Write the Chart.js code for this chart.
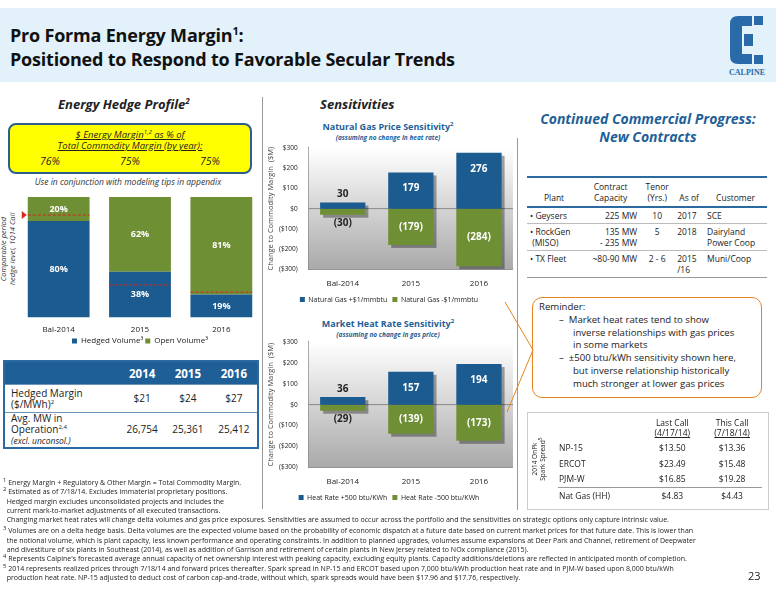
<!DOCTYPE html>
<html>
<head>
<meta charset="utf-8">
<script src="https://cdn.jsdelivr.net/npm/chart.js@4.4.0/dist/chart.umd.min.js"></script>
<style>
  body { margin:0; width:776px; height:600px; position:relative; background:#fff; font-family:"Open Sans", sans-serif; color:#222; overflow:hidden; }
  .abs { position:absolute; }
  .banner { left:0; top:8px; width:776px; height:74px; background:#e2f1fa; }
  .title { left:10px; top:19px; font-size:18px; font-weight:bold; line-height:24px; color:#111; letter-spacing:-0.2px; }
  .sect { font-style:italic; font-weight:bold; font-size:13px; }
  .ybox { left:8px; top:123px; width:240px; height:47px; background:#ffff00; border:2px solid #2c5f8a; border-radius:8px; font-style:italic; font-size:9.5px; text-align:center; }
  table { border-collapse:collapse; }
  .hm { left:3px; top:360px; width:256px; font-size:10px; border:2px solid #2b6aa0; }
  .hm th { background:#1f5f98; color:#fff; font-size:11.5px; height:22px; padding:0; }
  .hm td { border-top:1px solid #6d95bb; text-align:center; padding:0; line-height:11px; }
  .hm td:first-child { text-align:left; padding-left:6px; }
  .ct { left:527px; top:176px; width:240px; font-size:8.5px; border-top:2px solid #2b6aa0; border-bottom:1px solid #999; }
  .ct td { padding:2px 3px; vertical-align:top; border-top:1px solid #bbb; }
  .ct th { font-weight:normal; padding:3px; vertical-align:bottom; border-bottom:2px solid #2b6aa0; }
  .rem { left:532px; top:297px; width:230px; height:101px; border:1.5px solid #e8841f; border-radius:10px; font-size:9.6px; line-height:12.8px; padding:3px 4px 0 6px; box-sizing:border-box; }
  .sp { left:527px; top:412px; width:240px; height:96px; border:1px solid #ccc; font-size:8.5px; }
  .fn { left:3px; top:478px; width:790px; transform:scaleX(0.95); transform-origin:left top; font-size:7.4px; line-height:9.3px; }
  canvas { position:absolute; }
</style>
</head>
<body>
<div class="abs banner"></div>
<div class="abs title">Pro Forma Energy Margin<sup style="font-size:11px">1</sup>:<br>Positioned to Respond to Favorable Secular Trends</div>
<svg class="abs" style="left:722px;top:12px" width="50" height="70">
  <path d="M8 12 Q8 4 16 4 L30 4 L30 14 L20 14 L20 42 L30 42 L30 52 L16 52 Q8 52 8 44 Z" fill="#2a6aa8"/>
  <rect x="32" y="4" width="9" height="9" fill="#2a6aa8"/>
  <rect x="32" y="43" width="9" height="9" fill="#2a6aa8"/>
  <rect x="22" y="22" width="9" height="12" fill="#2a6aa8"/>
  <text x="25" y="63" font-size="8" font-family="Liberation Serif" font-weight="bold" fill="#2a6aa8" text-anchor="middle">CALPINE</text>
</svg>

<div class="abs sect" style="left:58px;top:95px">Energy Hedge Profile<sup style="font-size:8px">2</sup></div>
<div class="abs sect" style="left:320px;top:95px">Sensitivities</div>
<div class="abs sect" style="left:528px;top:110px;width:240px;text-align:center;color:#1f5f98;font-size:14px;line-height:18px">Continued Commercial Progress:<br>New Contracts</div>

<div class="abs ybox">
  <div style="margin-top:4px;text-decoration:underline;line-height:11px">$ Energy Margin<sup style="font-size:6px;line-height:0">1,2</sup> as % of<br>Total Commodity Margin (by year):</div>
  <div style="display:flex;justify-content:space-around;font-size:10.5px;margin-top:3px"><span>76%</span><span>75%</span><span>75%</span></div>
</div>
<div class="abs" style="left:8px;top:176px;width:240px;text-align:center;font-style:italic;font-size:8.5px;color:#333">Use in conjunction with modeling tips in appendix</div>
<div class="abs" style="left:-32px;top:240px;width:80px;transform:rotate(-90deg);font-style:italic;font-size:7.5px;text-align:center;line-height:9px;color:#333">Comparable period<br>hedge level, 1Q14 Call</div>

<canvas id="hedge" style="left:14px;top:197px" width="248" height="158"></canvas>

<div class="abs" style="left:262px;top:97px;width:1px;height:412px;background:#999"></div>
<div class="abs" style="left:517px;top:138px;width:1px;height:372px;background:#999"></div>

<div class="abs" style="left:268px;top:119px;width:240px;text-align:center;color:#1f5f98;font-weight:bold;font-size:9px;line-height:10px">Natural Gas Price Sensitivity<sup style="font-size:6px">2</sup><br><i style="font-size:6.5px">(assuming no change in heat rate)</i></div>
<canvas id="gas" style="left:265px;top:141px" width="248" height="172"></canvas>
<div class="abs" style="left:268px;top:316px;width:240px;text-align:center;color:#1f5f98;font-weight:bold;font-size:9px;line-height:10px">Market Heat Rate Sensitivity<sup style="font-size:6px">2</sup><br><i style="font-size:6.5px">(assuming no change in gas price)</i></div>
<canvas id="heat" style="left:265px;top:335px" width="248" height="176"></canvas>

<table class="abs hm">
  <tr><th></th><th>2014</th><th>2015</th><th>2016</th></tr>
  <tr style="height:28px"><td>Hedged Margin<br>($/MWh)<sup style="font-size:6px;line-height:0">2</sup></td><td>$21</td><td>$24</td><td>$27</td></tr>
  <tr style="height:35px"><td>Avg. MW in<br>Operation<sup style="font-size:6px;line-height:0">2,4</sup><br><i style="font-size:8.5px">(excl. unconsol.)</i></td><td>26,754</td><td>25,361</td><td>25,412</td></tr>
</table>

<table class="abs ct">
  <tr><th style="text-align:center">Plant</th><th>Contract<br>Capacity</th><th>Tenor<br>(Yrs.)</th><th>As of</th><th>Customer</th></tr>
  <tr><td>• Geysers</td><td style="text-align:right">225 MW</td><td style="text-align:center">10</td><td>2017</td><td>SCE</td></tr>
  <tr><td>• RockGen<br>&nbsp;(MISO)</td><td style="text-align:right">135 MW<br>- 235 MW</td><td style="text-align:center">5</td><td>2018</td><td>Dairyland<br>Power Coop</td></tr>
  <tr><td>• TX Fleet</td><td style="text-align:right">~80-90 MW</td><td style="text-align:center">2 - 6</td><td>2015<br>/16</td><td>Muni/Coop</td></tr>
</table>

<div class="abs rem">Reminder:
  <div style="padding-left:14px;text-indent:-14px;margin-left:20px">–&nbsp;&nbsp;Market heat rates tend to show<br>inverse relationships with gas prices<br>in some markets</div>
  <div style="padding-left:14px;text-indent:-14px;margin-left:20px">–&nbsp;&nbsp;±500 btu/kWh sensitivity shown here,<br>but inverse relationship historically<br>much stronger at lower gas prices</div>
</div>
<svg class="abs" style="left:495px;top:300px" width="50" height="120">
  <line x1="38" y1="50" x2="10" y2="2" stroke="#e8841f" stroke-width="1"/>
  <line x1="38" y1="50" x2="12" y2="112" stroke="#e8841f" stroke-width="1"/>
</svg>

<div class="abs sp">
  <div class="abs" style="left:-19px;top:38px;width:60px;transform:rotate(-90deg);font-size:6.5px;text-align:center;line-height:8px">2014 OnPk<br>Spark Spread<sup style="line-height:0">5</sup></div>
  <table style="position:absolute;left:30px;top:4px;width:204px;font-size:8.5px">
    <tr><td></td><td style="text-align:center;line-height:10px">Last Call<br><u>(4/17/14)</u></td><td style="text-align:center;line-height:10px">This Call<br><u>(7/18/14)</u></td></tr>
    <tr style="height:16px"><td>NP-15</td><td style="text-align:center">$13.50</td><td style="text-align:center">$13.36</td></tr>
    <tr style="height:16px"><td>ERCOT</td><td style="text-align:center">$23.49</td><td style="text-align:center">$15.48</td></tr>
    <tr style="height:16px"><td>PJM-W</td><td style="text-align:center">$16.85</td><td style="text-align:center">$19.28</td></tr>
    <tr style="height:16px;border-top:1px solid #999"><td>Nat Gas (HH)</td><td style="text-align:center">$4.83</td><td style="text-align:center">$4.43</td></tr>
  </table>
</div>

<div class="abs fn">
  <div style="width:270px"><sup style="line-height:0">1</sup> Energy Margin + Regulatory &amp; Other Margin = Total Commodity Margin.<br><sup style="line-height:0">2</sup> Estimated as of 7/18/14. Excludes immaterial proprietary positions.<br>&nbsp;&nbsp;Hedged margin excludes unconsolidated projects and includes the<br>&nbsp;&nbsp;current mark-to-market adjustments of all executed transactions.</div>
  <div>&nbsp;&nbsp;Changing market heat rates will change delta volumes and gas price exposures. Sensitivities are assumed to occur across the portfolio and the sensitivities on strategic options only capture intrinsic value.</div>
  <div style="margin-top:2px"><sup style="line-height:0">3</sup> Volumes are on a delta hedge basis. Delta volumes are the expected volume based on the probability of economic dispatch at a future date based on current market prices for that future date. This is lower than<br>&nbsp;&nbsp;the notional volume, which is plant capacity, less known performance and operating constraints. In addition to planned upgrades, volumes assume expansions at Deer Park and Channel, retirement of Deepwater<br>&nbsp;&nbsp;and divestiture of six plants in Southeast (2014), as well as addition of Garrison and retirement of certain plants in New Jersey related to NOx compliance (2015).</div>
  <div><sup style="line-height:0">4</sup> Represents Calpine's forecasted average annual capacity of net ownership interest with peaking capacity, excluding equity plants. Capacity additions/deletions are reflected in anticipated month of completion.</div>
  <div><sup style="line-height:0">5</sup> 2014 represents realized prices through 7/18/14 and forward prices thereafter. Spark spread in NP-15 and ERCOT based upon 7,000 btu/kWh production heat rate and in PJM-W based upon 8,000 btu/kWh<br>&nbsp;&nbsp;production heat rate. NP-15 adjusted to deduct cost of carbon cap-and-trade, without which, spark spreads would have been $17.96 and $17.76, respectively.</div>
</div>
<div class="abs" style="left:748px;top:568px;font-size:11px">23</div>

<script>
// 数据
const years = ['Bal-2014', '2015', '2016'];
const hedgedVolume = [80, 38, 19];
const openVolume = [20, 62, 81];
const comparableHedge = [85, 27, 21];

const gasUp = [30, 179, 276];
const gasDown = [-30, -179, -284];
const heatUp = [36, 157, 194];
const heatDown = [-29, -139, -173];
const sensTicks = [300, 200, 100, 0, -100, -200, -300];

Chart.defaults.font.family = "'Open Sans', sans-serif";
Chart.defaults.color = '#222';
Chart.defaults.animation = false;

const BLUE = '#1c5b8f';
const GREEN = '#6f8f34';

function fmtMoney(v) {
    if (v === 0) return '$0';
    return v < 0 ? '($' + Math.abs(v) + ')' : '$' + v;
}

// 值标签插件
const valueLabels = {
    id: 'valueLabels',
    afterDatasetsDraw(chart, args, opts) {
        const ctx = chart.ctx;
        ctx.save();
        ctx.textAlign = 'center';
        ctx.textBaseline = 'middle';
        chart.data.datasets.forEach((ds, di) => {
            chart.getDatasetMeta(di).data.forEach((bar, i) => {
                const v = ds.data[i];
                let txt = opts.percent ? v + '%' : (v < 0 ? '(' + Math.abs(v) + ')' : String(v));
                let y;
                let color = '#fff';
                const h = Math.abs(bar.base - bar.y);
                if (opts.percent) {
                    y = (bar.y + bar.base) / 2;
                } else if (h < 20) {
                    y = v > 0 ? bar.y - 8 : bar.y + 8;
                    color = '#222';
                } else {
                    y = v > 0 ? bar.y + 16 : (bar.y + bar.base) / 2;
                }
                ctx.fillStyle = color;
                ctx.font = 'bold ' + (opts.percent ? 9 : 10) + 'px "Open Sans"';
                ctx.fillText(txt, bar.x, y);
            });
        });
        ctx.restore();
    }
};

// 背景渐变 + 阴影
const plotBg = {
    id: 'plotBg',
    beforeDatasetsDraw(chart) {
        const a = chart.chartArea, ctx = chart.ctx;
        const g = ctx.createLinearGradient(0, a.top, 0, a.bottom);
        g.addColorStop(0, '#ffffff');
        g.addColorStop(1, '#a9a9a9');
        ctx.save();
        ctx.fillStyle = g;
        ctx.fillRect(a.left, a.top, a.right - a.left, a.bottom - a.top);
        const y0 = chart.scales.y.getPixelForValue(0);
        ctx.strokeStyle = '#888';
        ctx.beginPath(); ctx.moveTo(a.left, y0); ctx.lineTo(a.right, y0); ctx.stroke();
        // 阴影
        chart.data.datasets.forEach((ds, di) => {
            chart.getDatasetMeta(di).data.forEach(bar => {
                const w = bar.width;
                ctx.fillStyle = 'rgba(0,0,0,0.35)';
                ctx.fillRect(bar.x - w / 2 + 3, Math.min(bar.y, bar.base) + 3, w, Math.abs(bar.base - bar.y));
            });
        });
        ctx.restore();
    }
};

// 对比对冲水平线
const hedgeLines = {
    id: 'hedgeLines',
    afterDatasetsDraw(chart) {
        const ctx = chart.ctx, y = chart.scales.y;
        const meta = chart.getDatasetMeta(0);
        ctx.save();
        ctx.strokeStyle = '#d9261c';
        ctx.setLineDash([3, 2]);
        meta.data.forEach((bar, i) => {
            const py = y.getPixelForValue(comparableHedge[i]);
            ctx.beginPath();
            ctx.moveTo(bar.x - bar.width / 2, py);
            ctx.lineTo(bar.x + bar.width / 2, py);
            ctx.stroke();
            if (i === 0) {
                ctx.fillStyle = '#d9261c';
                const lx = bar.x - bar.width / 2 - 1;
                ctx.beginPath(); ctx.moveTo(lx - 5, py - 4); ctx.lineTo(lx, py); ctx.lineTo(lx - 5, py + 4); ctx.fill();
            }
        });
        ctx.restore();
    }
};

new Chart(document.getElementById('hedge'), {
    type: 'bar',
    data: {
        labels: years,
        datasets: [
            { label: 'Hedged Volume³', data: hedgedVolume, backgroundColor: BLUE },
            { label: 'Open Volume³', data: openVolume, backgroundColor: GREEN }
        ]
    },
    options: {
        responsive: false,
        categoryPercentage: 0.76,
        barPercentage: 1.0,
        layout: { padding: { left: 4 } },
        scales: {
            x: { stacked: true, grid: { display: false }, border: { display: false }, ticks: { font: { size: 8 }, padding: 0 } },
            y: { stacked: true, display: false, min: 0, max: 100 }
        },
        plugins: {
            legend: { position: 'bottom', labels: { boxWidth: 5, boxHeight: 5, font: { size: 8 }, padding: 2 } },
            tooltip: { enabled: false },
            valueLabels: { percent: true }
        }
    },
    plugins: [valueLabels, hedgeLines]
});

function sensChart(id, up, down, upLabel, downLabel) {
    return new Chart(document.getElementById(id), {
        type: 'bar',
        data: {
            labels: years,
            datasets: [
                { label: upLabel, data: up, backgroundColor: BLUE },
                { label: downLabel, data: down, backgroundColor: GREEN }
            ]
        },
        options: {
            responsive: false,
            categoryPercentage: 0.7,
            barPercentage: 0.95,
            scales: {
                x: { stacked: true, grid: { display: false }, border: { color: '#888' }, ticks: { font: { size: 8 }, padding: 2 } },
                y: {
                    stacked: true, min: -300, max: 300,
                    afterBuildTicks: s => { s.ticks = sensTicks.map(v => ({ value: v })); },
                    grid: { display: false }, border: { color: '#888' },
                    ticks: { font: { size: 6.5 }, callback: v => fmtMoney(v) },
                    title: { display: true, text: 'Change to Commodity Margin  ($M)', font: { size: 7.5 }, color: '#444', padding: 1 }
                }
            },
            plugins: {
                legend: { position: 'bottom', labels: { boxWidth: 5, boxHeight: 5, font: { size: 7 }, padding: 5 } },
                tooltip: { enabled: false },
                valueLabels: {}
            }
        },
        plugins: [plotBg, valueLabels]
    });
}

sensChart('gas', gasUp, gasDown, 'Natural Gas +$1/mmbtu', 'Natural Gas -$1/mmbtu');
sensChart('heat', heatUp, heatDown, 'Heat Rate +500 btu/KWh', 'Heat Rate -500 btu/KWh');
</script>
</body>
</html>
